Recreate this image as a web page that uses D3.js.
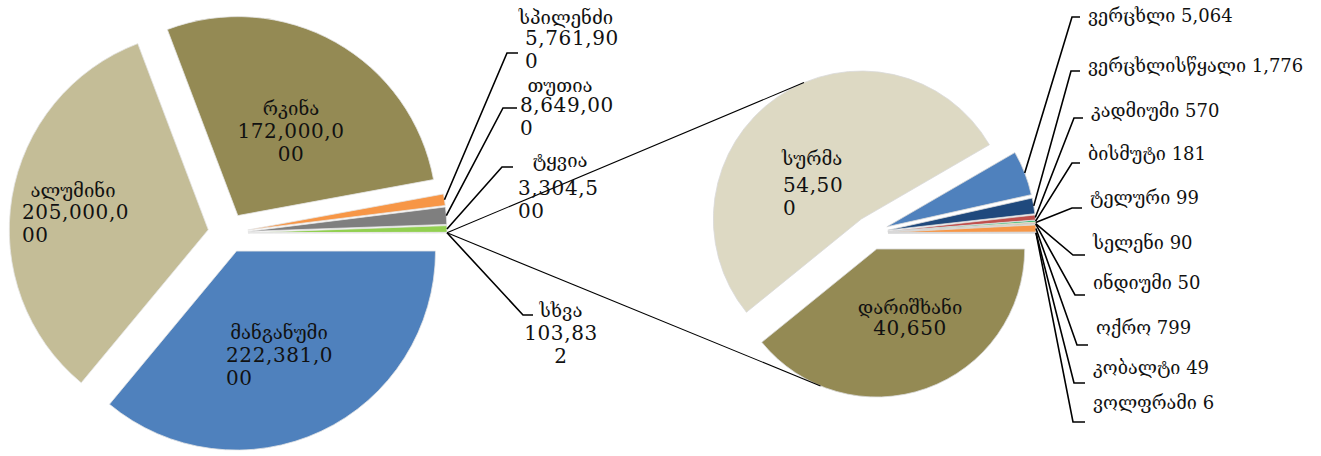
<!DOCTYPE html>
<html><head><meta charset="utf-8">
<script src="https://cdn.jsdelivr.net/npm/d3@7"></script>
<style>
body{margin:0;background:#fff}
svg{display:block}
text{font-family:"DejaVu Serif",serif;fill:#111}
</style>
</head><body>
<svg id="c" width="1321" height="456"></svg>
<script>
// ---- data ----
const primaryNames  = ["მანგანუმი","ალუმინი","რკინა","სპილენძი","თუთია","ტყვია","სხვა"];
const primaryValues = [222381000, 205000000, 172000000, 5761900, 8649000, 3304500, 103832];
const primaryColors = ["#4F81BD","#C4BD97","#948A54","#F79646","#7F7F7F","#92D050","#BFBFBF"];

const secondaryNames  = ["დარიშხანი","სურმა","ვერცხლი","ვერცხლისწყალი","კადმიუმი","ბისმუტი","ტელური","სელენი","ინდიუმი","ოქრო","კობალტი","ვოლფრამი"];
const secondaryValues = [40650, 54500, 5064, 1776, 570, 181, 99, 90, 50, 799, 49, 6];
const secondaryColors = ["#948A54","#DDD9C3","#4F81BD","#1F497D","#C0504D","#00B050","#FFFF00","#C00000","#92D050","#F79646","#8064A2","#4BACC6"];

// ---- layout ----
const P = {cx:228, cy:233, r:199, explode:20};
const S = {cx:871, cy:233, r:148, explode:17};
const LH = 23;
const primaryLabelLayout = [
  {name:[279,332,"middle"], num:[226,355,"start"], wrap:9},
  {name:[73,190,"middle"],  num:[22,212,"start"],  wrap:9},
  {name:[291,108,"middle"], num:[291,131,"middle"],wrap:9},
  {name:[566,17,"middle"],  num:[525,38,"start"],  wrap:8, elbow:[507,53,518]},
  {name:[560,85,"middle"],  num:[520,105,"start"], wrap:8, elbow:[503,108,517]},
  {name:[560,160,"middle"], num:[518,188,"start"], wrap:7, elbow:[502,167,513]},
  {name:[561,310,"middle"], num:[561,333,"middle"],wrap:6, elbow:[523,315,533]}
];
const secondaryInside = [
  {name:[910,307,"middle"], num:[910,328,"middle"], wrap:9},
  {name:[782,158,"start"],  num:[783,185,"start"],  wrap:5}
];
// elbow x, elbow y, end x, label y  (for small secondary slices, index 2..)
const secondaryElbows = [
  [1072,17,1080,15],[1071,71,1080,65],[1074,118,1083,110],[1072,163,1080,153],[1072,208,1082,197],
  [1073,255,1085,242],[1075,295,1085,282],[1077,345,1088,327],[1074,383,1085,367],[1073,422,1085,402]
];

const svg = d3.select("#c");
const fmt = d3.format(",");

function buildPie(values, cfg, shift){
  const pie = d3.pie().sort(null).value(d=>d)
    .startAngle(Math.PI/2 - shift).endAngle(Math.PI/2 - shift + 2*Math.PI);
  return pie(values).map(a=>{
    const mid=(a.startAngle+a.endAngle)/2;
    a.ox = cfg.cx + cfg.explode*Math.sin(mid);
    a.oy = cfg.cy - cfg.explode*Math.cos(mid);
    a.outer = [a.ox + cfg.r*Math.sin(mid), a.oy - cfg.r*Math.cos(mid)];
    return a;
  });
}

const pTotal = d3.sum(primaryValues);
const otherAngle = 2*Math.PI*primaryValues[primaryValues.length-1]/pTotal;
const pArcs = buildPie(primaryValues, P, otherAngle/2);
const sArcs = buildPie(secondaryValues, S, 0);

const arcP = d3.arc().innerRadius(0).outerRadius(P.r);
const arcS = d3.arc().innerRadius(0).outerRadius(S.r);

const gP = svg.append("g");
gP.selectAll("path").data(pArcs).join("path")
  .attr("transform",d=>`translate(${d.ox},${d.oy})`)
  .attr("d",arcP)
  .attr("fill",(d,i)=>primaryColors[i])
  .attr("stroke","#e6e6e6").attr("stroke-width",0.8);

const gS = svg.append("g");
gS.selectAll("path").data(sArcs).join("path")
  .attr("transform",d=>`translate(${d.ox},${d.oy})`)
  .attr("d",arcS)
  .attr("fill",(d,i)=>secondaryColors[i])
  .attr("stroke","#d9d9d9").attr("stroke-width",0.8);

// connector lines (tangents from the "other" slice to the secondary pie)
function tangent(p, o, r, top){
  const vx=p[0]-o[0], vy=p[1]-o[1];
  const dist=Math.hypot(vx,vy), a=Math.acos(r/dist), base=Math.atan2(vy,vx);
  const t1=[o[0]+r*Math.cos(base+a), o[1]+r*Math.sin(base+a)];
  const t2=[o[0]+r*Math.cos(base-a), o[1]+r*Math.sin(base-a)];
  return top ? (t1[1]<t2[1]?t1:t2) : (t1[1]>t2[1]?t1:t2);
}
const src = pArcs[pArcs.length-1].outer;
const tTop = tangent(src,[sArcs[1].ox,sArcs[1].oy],S.r,true);
const tBot = tangent(src,[sArcs[0].ox,sArcs[0].oy],S.r,false);
svg.append("g").selectAll("line").data([tTop,tBot]).join("line")
  .attr("x1",src[0]).attr("y1",src[1]).attr("x2",d=>d[0]).attr("y2",d=>d[1])
  .attr("stroke","#000").attr("stroke-width",1.1);

// label helpers
function wrapStr(s,n){const out=[];for(let i=0;i<s.length;i+=n)out.push(s.slice(i,i+n));return out;}
function drawLabel(g, name, value, spec){
  g.append("text").attr("x",spec.name[0]).attr("y",spec.name[1])
    .attr("text-anchor",spec.name[2]).attr("dominant-baseline","central")
    .style("font-size","18.5px").text(name);
  wrapStr(fmt(value),spec.wrap).forEach((ln,i)=>{
    g.append("text").attr("x",spec.num[0]).attr("y",spec.num[1]+i*LH)
      .attr("text-anchor",spec.num[2]).attr("dominant-baseline","central")
      .style("font-size","20px").style("letter-spacing","0.6px").text(ln);
  });
}
const gL = svg.append("g");
primaryLabelLayout.forEach((spec,i)=>{
  drawLabel(gL, primaryNames[i], primaryValues[i], spec);
  if(spec.elbow){
    const s=pArcs[i].outer;
    gL.append("path").attr("d",d3.line()([s,[spec.elbow[0],spec.elbow[1]],[spec.elbow[2],spec.elbow[1]]]))
      .attr("fill","none").attr("stroke","#000").attr("stroke-width",1.6);
  }
});
secondaryInside.forEach((spec,i)=>drawLabel(gL, secondaryNames[i], secondaryValues[i], spec));
secondaryElbows.forEach((e,k)=>{
  const i=k+2, s=sArcs[i].outer;
  gL.append("path").attr("d",d3.line()([s,[e[0],e[1]],[e[2],e[1]]]))
    .attr("fill","none").attr("stroke","#000").attr("stroke-width",1.6);
  gL.append("text").attr("x",e[2]+8).attr("y",e[3]).attr("dominant-baseline","central")
    .style("font-size","18px")
    .text(secondaryNames[i]+" "+fmt(secondaryValues[i]));
});
</script>
</body></html>
